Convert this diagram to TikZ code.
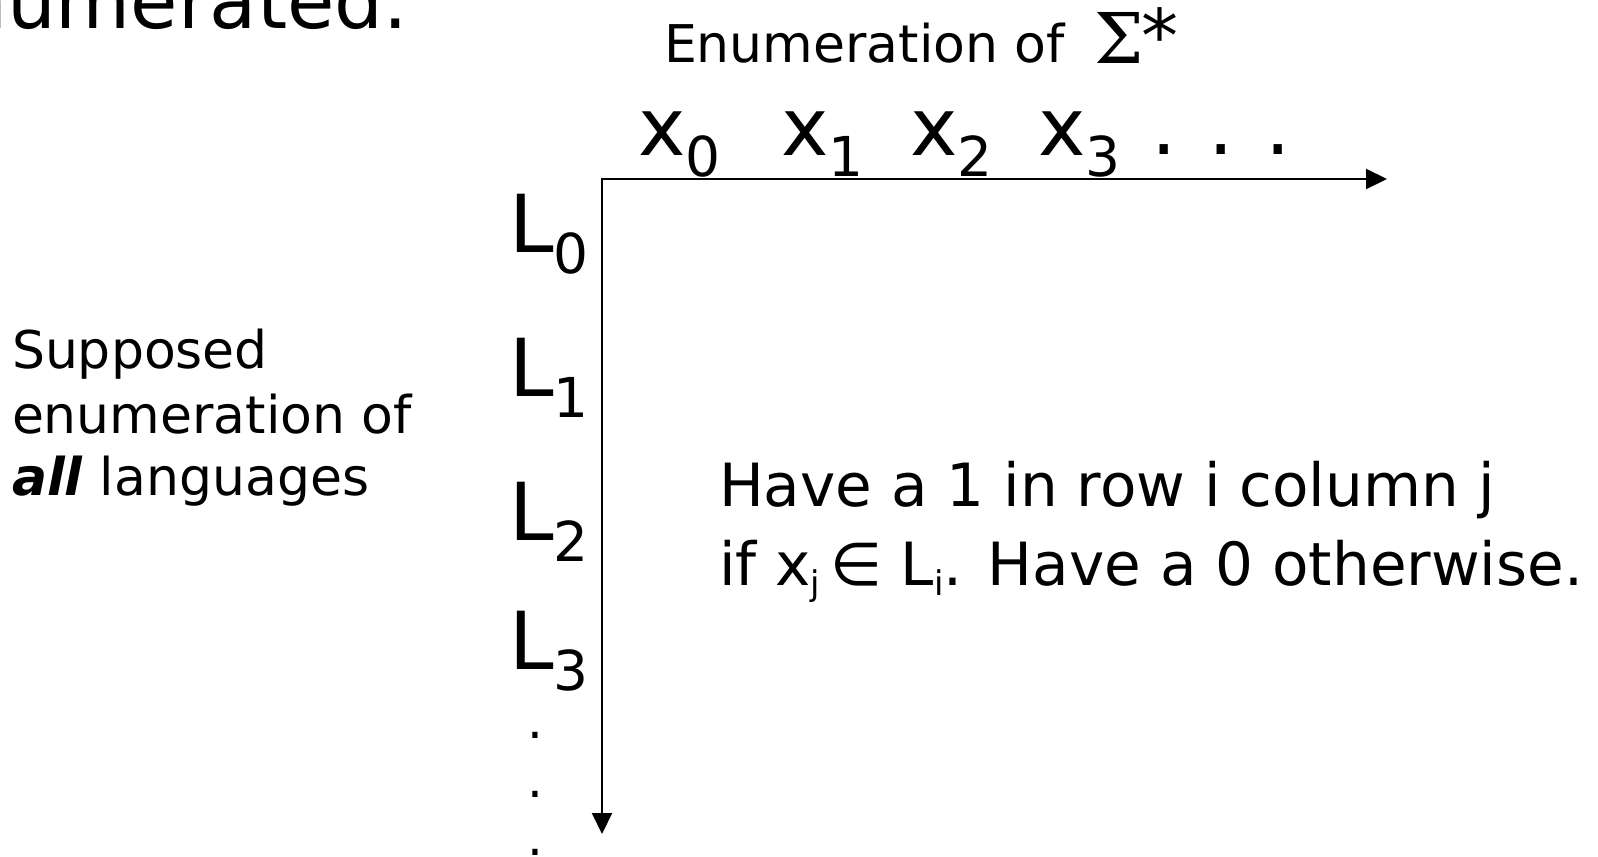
\documentclass[tikz,border=0pt]{standalone}
\usepackage{fontspec}
\setmainfont{DejaVu Sans}
\newfontfamily\serifsym{DejaVu Serif}
\usetikzlibrary{arrows.meta}
\newcommand{\fsz}[1]{\fontsize{#1}{#1}\selectfont}
\newcommand{\bigsub}[1]{\raisebox{-10.75pt}{\fsz{27.5pt}#1}}
\newcommand{\smallsub}[1]{\raisebox{-5pt}{\fsz{17pt}#1}}
\begin{document}
\begin{tikzpicture}[x=0.5pt,y=-0.5pt,
  lbl/.style={inner sep=0pt, outer sep=0pt, anchor=base west},
  big/.style={lbl, font={\fsz{40pt}}},
  mid/.style={lbl, font={\fsz{26pt}}},
  note/.style={lbl, font={\fsz{29.8pt}}},
  axis/.style={line width=1pt, {Triangle[length=10.5pt,width=10pt]}-{Triangle[length=10.5pt,width=10pt]}}]
\path[use as bounding box] (0,0) rectangle (1598,856);
\clip (0,0) rectangle (1598,856);

% title fragment
\node[lbl, font={\fsz{38.5pt}}, anchor=base east] (title) at (408,29) {enumerated.};

% header
\node[mid] (enum) at (664,63) {Enumeration of};
\node[lbl, font={\serifsym\fsz{35pt}}] (sigma) at (1094,64) {Σ};
\node[lbl, font={\fsz{37pt}}] (star) at (1141,63) {*};

% axes
\coordinate (O) at (602,179);
\coordinate (H) at (1387,179);
\coordinate (V) at (602,834);
\draw[axis] (H) -- (O) -- (V);

% column labels
\node[big] (x0) at (638,155) {x\bigsub{0}};
\node[big] (x1) at (781,155) {x\bigsub{1}};
\node[big] (x2) at (910,155) {x\bigsub{2}};
\node[big] (x3) at (1038,155) {x\bigsub{3}};
\node[big, anchor=base] (d1) at (1164,154) {.};
\node[big, anchor=base] (d2) at (1221,154) {.};
\node[big, anchor=base] (d3) at (1278,154) {.};

% row labels
\node[big] (L0) at (509,252) {L\bigsub{0}};
\node[big] (L1) at (509,396) {L\bigsub{1}};
\node[big] (L2) at (509,540) {L\bigsub{2}};
\node[big] (L3) at (509,669) {L\bigsub{3}};
\node[lbl, anchor=base, font={\fsz{25pt}}] (v1) at (535.5,738) {.};
\node[lbl, anchor=base, font={\fsz{25pt}}] (v2) at (535.5,797) {.};
\node[lbl, anchor=base, font={\fsz{25pt}}] (v3) at (535.5,855) {.};

% left description
\node[mid] (s1) at (12,368) {Supposed};
\node[mid] (s2) at (12,433) {enumeration of};
\node[mid] (s3) at (12,495) {\textbf{\textit{all}} languages};

% note
\node[note] (n1) at (719,506) {Have a 1 in row i column j};
\node[note] (n2) at (719,585) {if x\smallsub{j}\,∈ L\smallsub{i}. Have a 0 otherwise.};
\end{tikzpicture}
\end{document}
